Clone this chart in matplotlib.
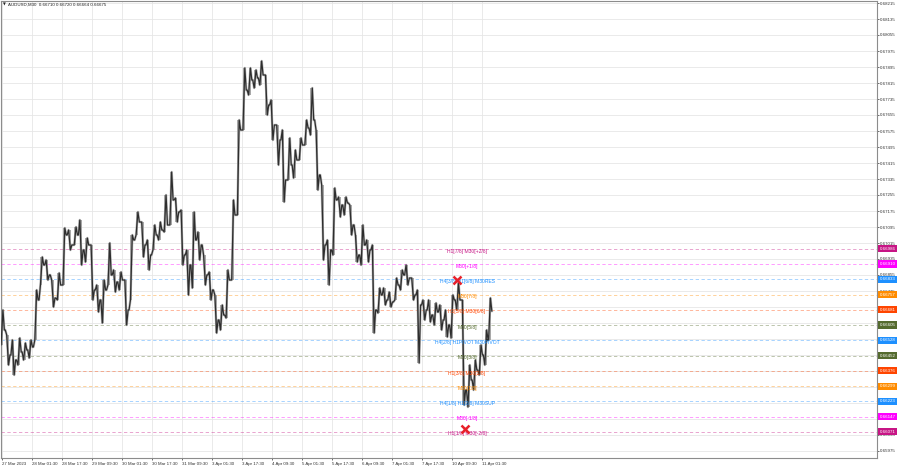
import matplotlib
matplotlib.use("Agg")
import matplotlib.pyplot as plt
import matplotlib.transforms as mtransforms
import numpy as np

# ---------------- data ----------------
symbol_title = "AUDUSD,M30  0.66710 0.66720 0.66664 0.66675"

# aggregated price samples (every 6 M30 bars)
bar_pos = list(range(0, 517, 6)) + [520]
highs = [0.66680, 0.66555, 0.66530, 0.66540, 0.66515, 0.66530, 0.66780, 0.66945, 0.66930, 0.66830,
         0.66865, 0.67090, 0.67080, 0.67095, 0.67130, 0.67040, 0.67005, 0.66805, 0.66830, 0.67015,
         0.66880, 0.66870, 0.66830, 0.67055, 0.67170, 0.67120, 0.67030, 0.67105, 0.67120, 0.67255,
         0.67370, 0.67240, 0.67180, 0.66980, 0.67170, 0.67070, 0.66955, 0.66870, 0.66755, 0.66705,
         0.66880, 0.67230, 0.67630, 0.67890, 0.67890, 0.67880, 0.67925, 0.67855, 0.67730, 0.67605,
         0.67580, 0.67540, 0.67480, 0.67540, 0.67630, 0.67790, 0.67580, 0.67305, 0.67030, 0.67290,
         0.67245, 0.67245, 0.67205, 0.67055, 0.67105, 0.67030, 0.67005, 0.66790, 0.66790, 0.66770,
         0.66840, 0.66880, 0.66905, 0.66840, 0.66780, 0.66730, 0.66730, 0.66715, 0.66705, 0.66680,
         0.66755, 0.66815, 0.66730, 0.66405, 0.66430, 0.66505, 0.66580, 0.66740]
lows = [0.66505, 0.66405, 0.66355, 0.66405, 0.66430, 0.66440, 0.66530, 0.66805, 0.66830, 0.66695,
        0.66730, 0.66805, 0.66980, 0.67005, 0.66905, 0.66920, 0.66730, 0.66670, 0.66615, 0.66805,
        0.66770, 0.66780, 0.66605, 0.66730, 0.67055, 0.66945, 0.66880, 0.66980, 0.67030, 0.67070,
        0.67105, 0.67120, 0.66905, 0.66755, 0.66790, 0.66930, 0.66805, 0.66730, 0.66565, 0.66580,
        0.66640, 0.66830, 0.67155, 0.67580, 0.67755, 0.67790, 0.67805, 0.67655, 0.67530, 0.67405,
        0.67220, 0.67330, 0.67340, 0.67430, 0.67505, 0.67555, 0.67280, 0.66930, 0.66805, 0.66955,
        0.67145, 0.67155, 0.67055, 0.66920, 0.66905, 0.66920, 0.66565, 0.66665, 0.66705, 0.66695,
        0.66730, 0.66780, 0.66805, 0.66730, 0.66415, 0.66630, 0.66620, 0.66605, 0.66580, 0.66545,
        0.66540, 0.66680, 0.66205, 0.66195, 0.66280, 0.66355, 0.66405, 0.66530]
closes = [0.66580, 0.66455, 0.66430, 0.66470, 0.66480, 0.66495, 0.66730, 0.66905, 0.66855, 0.66740,
          0.66805, 0.67055, 0.67005, 0.67055, 0.66980, 0.67005, 0.66780, 0.66730, 0.66780, 0.66855,
          0.66820, 0.66830, 0.66680, 0.67030, 0.67120, 0.67005, 0.66955, 0.67055, 0.67080, 0.67105,
          0.67230, 0.67170, 0.66955, 0.66905, 0.67030, 0.67005, 0.66855, 0.66780, 0.66630, 0.66655,
          0.66830, 0.67155, 0.67580, 0.67780, 0.67830, 0.67840, 0.67855, 0.67705, 0.67605, 0.67530,
          0.67330, 0.67405, 0.67430, 0.67505, 0.67590, 0.67630, 0.67355, 0.67005, 0.66980, 0.67230,
          0.67205, 0.67215, 0.67105, 0.66955, 0.67005, 0.66980, 0.66680, 0.66755, 0.66730, 0.66720,
          0.66805, 0.66855, 0.66840, 0.66755, 0.66705, 0.66680, 0.66655, 0.66670, 0.66630, 0.66605,
          0.66730, 0.66730, 0.66280, 0.66330, 0.66380, 0.66455, 0.66530, 0.66675]

# x-axis labels (one every 32 M30 bars)
x_labels = ["27 Mar 2023", "28 Mar 01:30", "28 Mar 17:30", "29 Mar 09:30", "30 Mar 01:30",
            "30 Mar 17:30", "31 Mar 09:30", "3 Apr 01:30", "3 Apr 17:30", "4 Apr 09:30",
            "5 Apr 01:30", "5 Apr 17:30", "6 Apr 09:30", "7 Apr 01:30", "7 Apr 17:30",
            "10 Apr 09:30", "11 Apr 01:30"]
x_label_bars = [32 * i for i in range(len(x_labels))]

# price axis ticks
y_ticks = [0.65975 + 0.0008 * i for i in range(29)]

# Murrey-math levels
level_prices = [0.66986, 0.66910, 0.66833, 0.66757, 0.66681, 0.66605, 0.66528,
                0.66452, 0.66376, 0.66299, 0.66223, 0.66147, 0.66071]
level_texts = ["H1[7/8] M30[+2/8]", "M30[+1/8]", "H4[3/8] H1[6/8] M30RES", "M30[7/8]",
               "H1[5/8] M30[6/8]", "M30[5/8]", "H4[2/8] H1PIVOT M30PIVOT", "M30[3/8]",
               "H1[3/8] M30[2/8]", "M30[1/8]", "H4[1/8] H1[2/8] M30SUP", "M30[-1/8]",
               "H1[1/8] M30[-2/8]"]
level_colors = ["#C71585", "#FF00FF", "#1E90FF", "#FF8C00", "#FF4500", "#556B2F", "#1E90FF",
                "#556B2F", "#FF4500", "#FF8C00", "#1E90FF", "#FF00FF", "#C71585"]
label_bar = 496

# cross markers
cross_bars = [485, 494]
cross_prices = [0.66830, 0.66085]

# ---------------- figure ----------------
plt.rcParams['font.family'] = ['Liberation Sans', 'DejaVu Sans']
W, H = 900, 468
fig = plt.figure(figsize=(W / 100, H / 100), dpi=100)
fig.patch.set_facecolor("white")
ax_left_px, ax_right_px, ax_top_px, ax_bot_px = 1, 877, 1, 458
ax = fig.add_axes([ax_left_px / W, 1 - ax_bot_px / H,
                   (ax_right_px - ax_left_px) / W, (ax_bot_px - ax_top_px) / H])
bar_per_px = 32 / 30
ax.set_xlim((ax_left_px - 2) * bar_per_px, (ax_right_px - 2) * bar_per_px)
ax.set_ylim(0.68230 - 0.00005 * ax_bot_px, 0.68230 - 0.00005 * ax_top_px)

# grid
for b in x_label_bars:
    ax.axvline(b, color="#e6e6e6", lw=0.6, zorder=0)
for p in y_ticks:
    ax.axhline(p, color="#e6e6e6", lw=0.6, zorder=0)

# level lines
for p, c in zip(level_prices, level_colors):
    ax.axhline(p, color=c, lw=0.6, ls=(0, (4, 3)), alpha=0.45, zorder=1)

# price path (open -> extremes -> close for each aggregated sample)
px, py = [], []
prev = closes[0]
for b, h, l, c in zip(bar_pos, highs, lows, closes):
    if c >= prev:
        seq = [prev, l, h, c]
    else:
        seq = [prev, h, l, c]
    px += [b - 2.5, b - 1, b + 1, b + 2.5]
    py += seq
    prev = c
ax.vlines(bar_pos, lows, highs, color="#a0a0a0", lw=1.3, zorder=2)
ax.plot(px, py, color="#9a9a9a", lw=1.8, alpha=0.6, zorder=2.5)
ax.plot(px, py, color="#2e2e2e", lw=0.9, zorder=3)

# level labels in chart
for p, t, c in zip(level_prices, level_texts, level_colors):
    ax.text(label_bar, p - 0.00011, t, color=c, fontsize=3.6, ha="center", va="center", zorder=5)

# cross markers
ax.plot(cross_bars, cross_prices, ls="none", marker="x", ms=5.5, mew=1.8, color="#e8202a", zorder=6)

# axes styling
for s in ax.spines.values():
    s.set_color("#8c8c8c")
    s.set_linewidth(0.8)
ax.yaxis.tick_right()
ax.set_yticks(y_ticks)
ax.set_yticklabels([f"{p:.5f}" for p in y_ticks])
ax.tick_params(axis="y", length=1.5, width=0.5, pad=0.8, labelsize=3.2, colors="#333333")
ax.set_xticks(x_label_bars)
ax.set_xticklabels(x_labels, ha="left")
ax.tick_params(axis="x", length=1.5, width=0.5, pad=1.2, labelsize=3.2, colors="#333333")

# colored price boxes on the right axis
trans = mtransforms.blended_transform_factory(ax.transAxes, ax.transData)
for p, c in zip(level_prices, level_colors):
    ax.text(1.0 + 2.6 / (ax_right_px - ax_left_px), p, f"{p:.5f}", transform=trans,
            fontsize=3.2, color="white", ha="left", va="center", clip_on=False, zorder=10,
            bbox=dict(boxstyle="square,pad=0.35", fc=c, ec="none"))

# title
fig.text(3 / W, 1 - 5 / H, "\u25BC", fontsize=2.6, ha="left", va="center", color="#222222",
         family="DejaVu Sans")
fig.text(8 / W, 1 - 5 / H, symbol_title, fontsize=3.2, ha="left", va="center", color="#222222")

fig.savefig("out.png", dpi=100, facecolor="white")
